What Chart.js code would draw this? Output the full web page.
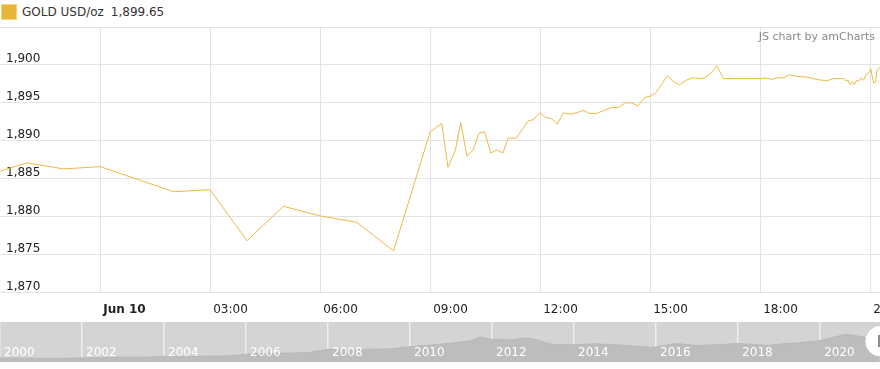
<!DOCTYPE html>
<html>
<head>
<meta charset="utf-8">
<script src="https://cdn.jsdelivr.net/npm/chart.js@4.4.0/dist/chart.umd.min.js"></script>
<style>
  html, body { margin: 0; padding: 0; background: #fff; }
  body { width: 880px; height: 369px; overflow: hidden; position: relative; font-family: 'DejaVu Sans', sans-serif; }
  #legend { position: absolute; left: 1px; top: 4px; height: 16px; display: flex; align-items: center; font-size: 12px; color: #333; white-space: nowrap; }
  #legend .swatch { width: 16px; height: 16px; background: #e8b53a; border: 1px solid #f1d27f; box-sizing: border-box; margin-right: 5px; }
  #legend .value { margin-left: 7px; }
  #main { position: absolute; left: 0; top: 0; }
  #nav { position: absolute; left: 0; top: 322px; }
</style>
</head>
<body>
<div id="legend"><span class="swatch"></span><span>GOLD USD/oz</span><span class="value" id="lastValue"></span></div>
<canvas id="main" width="880" height="327"></canvas>
<canvas id="nav" width="880" height="40"></canvas>
<script>
// intraday series, minutes relative to Jun 10 00:00
const minutesFromJun10 = [-164, -120, -60, 0, 120, 180, 240, 300, 360, 420, 480,
  540, 559, 569, 581, 590, 600, 610, 620, 629, 639, 649, 659, 668, 680, 690, 700,
  709, 719, 729, 739, 748, 758, 769, 780, 790, 801, 812, 824, 837, 848, 859, 870,
  880, 891, 900, 909, 919, 928, 938, 948, 959, 970, 982, 989, 998, 1009, 1020,
  1080, 1088, 1099, 1108, 1118, 1128, 1139, 1156, 1172, 1189, 1200, 1216, 1220,
  1224, 1227, 1231, 1234, 1238, 1241, 1245, 1249, 1253, 1257, 1261, 1263, 1266,
  1269, 1271, 1276];
const goldPrices = [1886.0, 1887.1, 1886.3, 1886.6, 1883.3, 1883.55, 1876.84, 1881.37, 1880.1, 1879.26, 1875.5,
  1891.2, 1892.3, 1886.5, 1888.7, 1892.4, 1888.0, 1888.8, 1891.0, 1891.2, 1888.4, 1888.8, 1888.4, 1890.4, 1890.3, 1891.4, 1892.6,
  1892.8, 1893.7, 1893.1, 1892.9, 1892.2, 1893.7, 1893.5, 1893.7, 1894.0, 1893.6, 1893.6, 1894.0, 1894.4, 1894.4, 1895.0, 1895.0,
  1894.6, 1895.7, 1895.9, 1896.3, 1897.5, 1898.6, 1897.8, 1897.4, 1898.0, 1898.3, 1898.2, 1898.3, 1898.8, 1899.9, 1898.2,
  1898.2, 1898.3, 1898.1, 1898.3, 1898.3, 1898.7, 1898.5, 1898.4, 1898.1, 1897.9, 1898.2, 1898.2, 1897.9,
  1898.0, 1897.4, 1897.8, 1897.4, 1898.0, 1897.8, 1898.3, 1898.0, 1898.7, 1898.9, 1899.5, 1898.6, 1897.6,
  1897.8, 1899.3, 1899.65];
const xTickLabels = ['Jun 10', '03:00', '06:00', '09:00', '12:00', '15:00', '18:00', '21:00'];

// long-range navigator series
const navYears = [2000, 2000.5, 2001, 2001.5, 2002, 2002.5, 2003, 2003.5, 2004, 2004.5, 2005, 2005.5,
  2006, 2006.5, 2007, 2007.5, 2008, 2008.5, 2009, 2009.5, 2010, 2010.5, 2011, 2011.5, 2011.7, 2012,
  2012.5, 2012.8, 2013, 2013.5, 2014, 2014.5, 2015, 2015.5, 2015.9, 2016, 2016.5, 2017, 2017.5, 2018,
  2018.5, 2018.7, 2019, 2019.5, 2020, 2020.6, 2021, 2021.2, 2021.45];
const navPrices = [285, 280, 265, 270, 285, 315, 350, 350, 410, 395, 425, 430,
  560, 630, 650, 670, 920, 850, 920, 950, 1100, 1230, 1360, 1550, 1800, 1650,
  1600, 1750, 1670, 1250, 1250, 1320, 1250, 1150, 1060, 1100, 1340, 1200, 1250, 1340,
  1250, 1200, 1290, 1400, 1550, 2000, 1850, 1700, 1900];
const navTickLabels = ['2000', '2002', '2004', '2006', '2008', '2010', '2012', '2014', '2016', '2018', '2020'];

const FONT = 'DejaVu Sans';

document.getElementById('lastValue').textContent =
  goldPrices[goldPrices.length - 1].toLocaleString('en-US', { minimumFractionDigits: 2 });

const creditPlugin = {
  id: 'credit',
  afterDraw(chart) {
    const { ctx, chartArea } = chart;
    ctx.save();
    ctx.font = '11px ' + FONT;
    ctx.fillStyle = '#888';
    ctx.textAlign = 'right';
    ctx.textBaseline = 'middle';
    ctx.fillText('JS chart by amCharts', chartArea.right - 5, chartArea.top + 10);
    ctx.restore();
  }
};

new Chart(document.getElementById('main'), {
  type: 'line',
  data: {
    datasets: [{
      label: 'GOLD USD/oz',
      data: minutesFromJun10.map((t, i) => ({ x: t, y: goldPrices[i] })),
      borderColor: '#ebb946',
      borderWidth: 1,
      pointRadius: 0,
      tension: 0
    }]
  },
  options: {
    responsive: false,
    animation: false,
    layout: { padding: { top: 27, left: 0, right: 0, bottom: 0 } },
    plugins: { legend: { display: false }, tooltip: { enabled: false } },
    scales: {
      x: {
        type: 'linear',
        min: -164,
        max: 1276,
        afterBuildTicks(axis) {
          axis.ticks = xTickLabels.map((_, i) => ({ value: i * 180 }));
        },
        afterFit(axis) {
          axis.paddingLeft = 0;
          axis.paddingRight = 0;
        },
        grid: { color: '#e3e3e3', lineWidth: 1, drawTicks: false },
        border: { display: false },
        ticks: {
          autoSkip: false,
          maxRotation: 0,
          align: 'start',
          labelOffset: 3,
          padding: 10,
          color: '#222',
          font: c => ({ family: FONT, size: 12, weight: c.index === 0 ? 'bold' : 'normal' }),
          callback: (value, index) => xTickLabels[index]
        }
      },
      y: {
        min: 1870,
        max: 1905,
        afterFit(axis) {
          axis.width = 0;
          axis.paddingTop = 0;
          axis.paddingBottom = 0;
        },
        grid: { color: '#e3e3e3', lineWidth: 1, drawTicks: false },
        border: { display: false },
        ticks: {
          stepSize: 5,
          mirror: true,
          padding: 6,
          labelOffset: -6,
          color: '#222',
          font: { family: FONT, size: 12 },
          callback: value => value === 1905 ? '' : value.toLocaleString('en-US')
        }
      }
    }
  },
  plugins: [creditPlugin]
});

const navPlugin = {
  id: 'navDecor',
  beforeDraw(chart) {
    const { ctx, chartArea } = chart;
    ctx.save();
    ctx.fillStyle = '#d4d4d4';
    ctx.fillRect(chartArea.left, chartArea.top, chartArea.width, chartArea.height);
    ctx.restore();
  },
  afterDraw(chart) {
    const { ctx, chartArea, scales } = chart;
    ctx.save();
    ctx.font = '12px ' + FONT;
    ctx.fillStyle = '#ffffff';
    ctx.textAlign = 'left';
    ctx.textBaseline = 'middle';
    navTickLabels.forEach(label => {
      ctx.fillText(label, scales.x.getPixelForValue(Number(label)) + 4, chartArea.top + 31);
    });
    // scrollbar grip at the right end
    const cx = chartArea.right + 1;
    const cy = chartArea.top + 19;
    ctx.beginPath();
    ctx.arc(cx, cy, 16, 0, Math.PI * 2);
    ctx.fillStyle = '#ffffff';
    ctx.fill();
    ctx.strokeStyle = '#c8c8c8';
    ctx.lineWidth = 1;
    ctx.stroke();
    ctx.fillStyle = '#8c8c8c';
    ctx.fillRect(cx - 3, cy - 6, 4, 12);
    ctx.restore();
  }
};

new Chart(document.getElementById('nav'), {
  type: 'line',
  data: {
    datasets: [{
      data: navYears.map((t, i) => ({ x: t, y: navPrices[i] })),
      borderColor: '#b9b9b9',
      backgroundColor: '#bdbdbd',
      borderWidth: 1,
      fill: 'origin',
      pointRadius: 0,
      tension: 0
    }]
  },
  options: {
    responsive: false,
    animation: false,
    layout: { padding: 0 },
    plugins: { legend: { display: false }, tooltip: { enabled: false } },
    scales: {
      x: {
        type: 'linear',
        min: 2000,
        max: 2021.46,
        z: 1,
        afterBuildTicks(axis) {
          axis.ticks = navTickLabels.map(l => ({ value: Number(l) }));
        },
        grid: { color: '#eeeeee', lineWidth: 1.5, drawTicks: false },
        border: { display: false },
        ticks: { display: false }
      },
      y: { display: false, min: 0, max: 2900 }
    }
  },
  plugins: [navPlugin]
});
</script>
</body>
</html>
